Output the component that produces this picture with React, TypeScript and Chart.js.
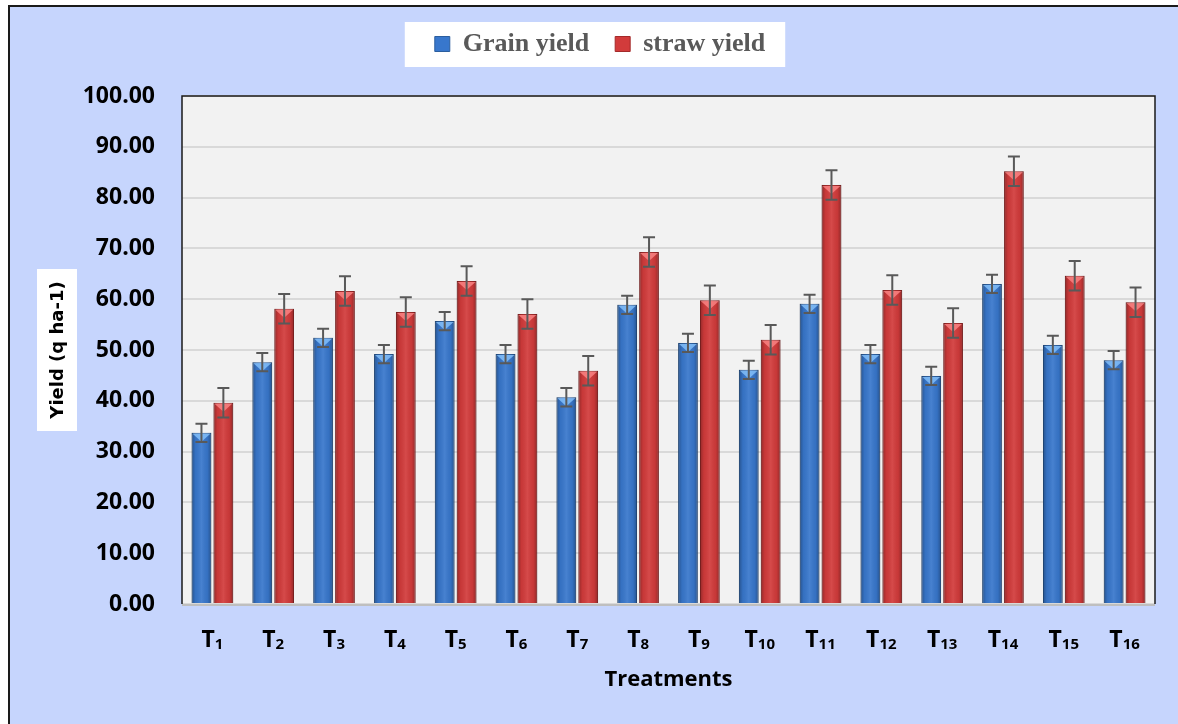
import React, { useEffect, useRef } from "react";
import { Chart, registerables } from "chart.js";

Chart.register(...registerables);

const categories = ["1", "2", "3", "4", "5", "6", "7", "8", "9", "10", "11", "12", "13", "14", "15", "16"];
const grainYield = [33.7, 47.6, 52.4, 49.2, 55.7, 49.2, 40.7, 58.9, 51.4, 46.1, 59.1, 49.2, 44.9, 63.0, 51.0, 48.0];
const strawYield = [39.6, 58.1, 61.6, 57.5, 63.6, 57.1, 45.9, 69.3, 59.8, 52.0, 82.5, 61.8, 55.3, 85.2, 64.6, 59.4];
const grainError = [1.8, 1.8, 1.8, 1.8, 1.8, 1.8, 1.8, 1.8, 1.8, 1.8, 1.8, 1.8, 1.8, 1.8, 1.8, 1.8];
const strawError = [2.9, 2.9, 2.9, 2.9, 2.9, 2.9, 2.9, 2.9, 2.9, 2.9, 2.9, 2.9, 2.9, 2.9, 2.9, 2.9];
const errors = [grainError, strawError];
const yTicks = [0, 10, 20, 30, 40, 50, 60, 70, 80, 90, 100];

const W = 1170;
const H = 719;

const bgPlugin = {
  id: "bgPlugin",
  beforeInit(chart: any) {
    const legend = chart.legend;
    if (legend) {
      const orig = legend.fit;
      legend.fit = function () {
        orig.call(legend);
        legend.height = 91;
      };
    }
  },
  beforeDraw(chart: any) {
    const { ctx, chartArea: a } = chart;
    ctx.save();
    ctx.fillStyle = "#C6D5FD";
    ctx.fillRect(0, 0, chart.width, chart.height);
    ctx.strokeStyle = "#1a1a1a";
    ctx.lineWidth = 2;
    ctx.beginPath();
    ctx.moveTo(1, chart.height);
    ctx.lineTo(1, 1);
    ctx.lineTo(chart.width, 1);
    ctx.stroke();
    ctx.fillStyle = "#F2F2F2";
    ctx.fillRect(a.left, a.top, a.right - a.left, a.bottom - a.top);
    // legend white box
    const lg = chart.legend;
    if (lg && lg.legendHitBoxes && lg.legendHitBoxes.length) {
      const hb = lg.legendHitBoxes;
      const l = Math.min(...hb.map((h: any) => h.left));
      const r = Math.max(...hb.map((h: any) => h.left + h.width));
      const cy = hb[0].top + hb[0].height / 2;
      ctx.fillStyle = "#FFFFFF";
      ctx.fillRect(l - 30, cy - 22, r - l + 50, 45);
    }
    // y title box
    const cyt = (a.top + a.bottom) / 2;
    ctx.fillStyle = "#FFFFFF";
    ctx.fillRect(29, cyt - 81, 40, 162);
    ctx.translate(50, cyt);
    ctx.rotate(-Math.PI / 2);
    ctx.fillStyle = "#000000";
    ctx.font = "bold 18px 'DejaVu Sans'";
    ctx.textAlign = "center";
    ctx.textBaseline = "middle";
    ctx.fillText("Yield (q ha-1)", 0, 0);
    ctx.restore();
  },
  afterDatasetsDraw(chart: any) {
    const { ctx, chartArea: a } = chart;
    const yScale = chart.scales.y;
    const xScale = chart.scales.x;
    ctx.save();
    // bar shading
    chart.data.datasets.forEach((ds: any, di: number) => {
      const meta = chart.getDatasetMeta(di);
      meta.data.forEach((bar: any) => {
        const w = bar.width;
        const l = bar.x - w / 2;
        const g = ctx.createLinearGradient(l, 0, l + w, 0);
        g.addColorStop(0, "rgba(0,0,0,0.30)");
        g.addColorStop(0.2, "rgba(0,0,0,0.05)");
        g.addColorStop(0.5, "rgba(255,255,255,0.08)");
        g.addColorStop(0.8, "rgba(0,0,0,0.05)");
        g.addColorStop(1, "rgba(0,0,0,0.30)");
        ctx.fillStyle = g;
        ctx.fillRect(l, bar.y, w, bar.base - bar.y);
        ctx.fillStyle = di === 0 ? "rgba(140,200,255,0.75)" : "rgba(255,140,140,0.75)";
        ctx.beginPath();
        ctx.moveTo(l + 1, bar.y + 1);
        ctx.lineTo(l + w - 1, bar.y + 1);
        ctx.lineTo(bar.x, bar.y + 9);
        ctx.closePath();
        ctx.fill();
      });
    });
    // error bars
    ctx.strokeStyle = "#595959";
    ctx.lineWidth = 2;
    chart.data.datasets.forEach((ds: any, di: number) => {
      const meta = chart.getDatasetMeta(di);
      meta.data.forEach((bar: any, i: number) => {
        const v = ds.data[i];
        const e = errors[di][i];
        const yt = yScale.getPixelForValue(v + e);
        const yb = yScale.getPixelForValue(v - e);
        ctx.beginPath();
        ctx.moveTo(bar.x, yt);
        ctx.lineTo(bar.x, yb);
        ctx.moveTo(bar.x - 6, yt);
        ctx.lineTo(bar.x + 6, yt);
        ctx.moveTo(bar.x - 6, yb);
        ctx.lineTo(bar.x + 6, yb);
        ctx.stroke();
      });
    });
    // plot border
    ctx.strokeStyle = "#1a1a1a";
    ctx.lineWidth = 1.5;
    ctx.beginPath();
    ctx.moveTo(a.left, a.bottom);
    ctx.lineTo(a.left, a.top);
    ctx.lineTo(a.right, a.top);
    ctx.lineTo(a.right, a.bottom);
    ctx.stroke();
    ctx.strokeStyle = "#BFBFBF";
    ctx.lineWidth = 2;
    ctx.beginPath();
    ctx.moveTo(a.left, a.bottom + 1);
    ctx.lineTo(a.right, a.bottom + 1);
    ctx.stroke();
    // x labels with subscripts
    ctx.fillStyle = "#000000";
    ctx.textBaseline = "alphabetic";
    categories.forEach((c, i) => {
      const x = xScale.getPixelForValue(i);
      ctx.font = "bold 23px 'Open Sans'";
      const tw = ctx.measureText("T").width;
      ctx.font = "bold 15px 'Open Sans'";
      const sw = ctx.measureText(c).width;
      const start = x - (tw + sw) / 2;
      ctx.font = "bold 23px 'Open Sans'";
      ctx.textAlign = "left";
      ctx.fillText("T", start, a.bottom + 43);
      ctx.font = "bold 15px 'Open Sans'";
      ctx.fillText(c, start + tw, a.bottom + 45);
    });
    ctx.font = "bold 22px 'Open Sans'";
    ctx.textAlign = "center";
    ctx.textBaseline = "middle";
    ctx.fillText("Treatments", (a.left + a.right) / 2, a.bottom + 76);
    ctx.restore();
  },
};

export default function App() {
  const ref = useRef<HTMLCanvasElement>(null);
  useEffect(() => {
    if (!ref.current) return;
    const chart = new Chart(ref.current, {
      type: "bar",
      data: {
        labels: categories,
        datasets: [
          {
            label: "Grain yield",
            data: grainYield,
            backgroundColor: "#3877CC",
            borderColor: "#2B5E9E",
            borderWidth: 1,
            barPercentage: 0.9,
            categoryPercentage: 0.72,
          },
          {
            label: "straw yield",
            data: strawYield,
            backgroundColor: "#D23B3B",
            borderColor: "#A32A2A",
            borderWidth: 1,
            barPercentage: 0.9,
            categoryPercentage: 0.72,
          },
        ],
      },
      options: {
        responsive: false,
        animation: false,
        layout: { padding: { left: 37, right: 23, top: 0, bottom: 0 } },
        plugins: {
          legend: {
            display: true,
            position: "top",
            labels: {
              boxWidth: 15,
              boxHeight: 15,
              padding: 26,
              color: "#595959",
              font: { family: "'Liberation Serif'", size: 26, weight: "bold" },
            },
          },
          tooltip: { enabled: false },
        },
        scales: {
          x: {
            grid: { display: false, drawTicks: false },
            border: { display: false },
            ticks: { display: false },
            afterFit(scale: any) {
              scale.height = 120;
            },
          },
          y: {
            min: 0,
            max: 100,
            afterBuildTicks(scale: any) {
              scale.ticks = yTicks.map((v) => ({ value: v }));
            },
            grid: { color: "#D9D9D9", lineWidth: 2, drawTicks: false },
            border: { display: false },
            ticks: {
              padding: 27,
              color: "#000000",
              font: { family: "'Open Sans'", size: 23, weight: "bold" },
              callback: (v: any) => Number(v).toFixed(2),
            },
            afterFit(scale: any) {
              scale.width = 137;
            },
          },
        },
      },
      plugins: [bgPlugin],
    } as any);
    return () => chart.destroy();
  }, []);
  return (
    <div style={{ position: "absolute", left: 8, top: 5, width: W, height: H, overflow: "hidden" }}>
      <canvas ref={ref} width={W} height={H} style={{ display: "block" }} />
    </div>
  );
}
